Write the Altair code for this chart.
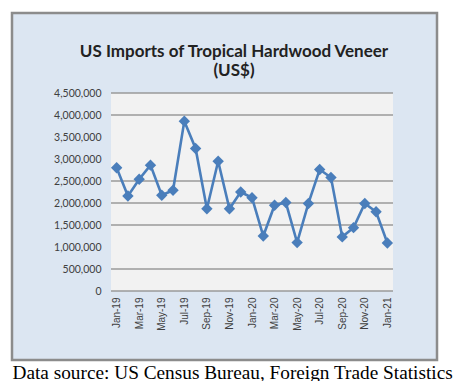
import altair as alt
import pandas as pd

months = ["Jan-19", "Feb-19", "Mar-19", "Apr-19", "May-19", "Jun-19", "Jul-19",
          "Aug-19", "Sep-19", "Oct-19", "Nov-19", "Dec-19", "Jan-20", "Feb-20",
          "Mar-20", "Apr-20", "May-20", "Jun-20", "Jul-20", "Aug-20", "Sep-20",
          "Oct-20", "Nov-20", "Dec-20", "Jan-21"]
values = [2800000, 2160000, 2540000, 2860000, 2175000, 2290000, 3860000,
          3240000, 1870000, 2950000, 1870000, 2250000, 2120000, 1250000,
          1950000, 2010000, 1100000, 1990000, 2760000, 2580000, 1230000,
          1440000, 1990000, 1800000, 1090000]
x_tick_labels = ["Jan-19", "Mar-19", "May-19", "Jul-19", "Sep-19", "Nov-19",
                 "Jan-20", "Mar-20", "May-20", "Jul-20", "Sep-20", "Nov-20", "Jan-21"]
y_ticks = [0, 500000, 1000000, 1500000, 2000000, 2500000, 3000000, 3500000,
           4000000, 4500000]
grid_values = [0, 500000, 1500000, 2000000, 2500000, 4000000, 4500000]

title_line1 = "US Imports of Tropical Hardwood Veneer"
title_line2 = "(US$)"
caption = "Data source: US Census Bureau, Foreign Trade Statistics"

W, H = 282, 198
df = pd.DataFrame({"month": months, "value": values})
grid_df = pd.DataFrame({"g": grid_values})
one = alt.Data(values=[{}])

yscale = alt.Scale(domain=[0, 4500000], nice=False)

frame = alt.Chart(one).mark_rect(
    fill="#dce6f2", stroke="#8c8c8c", strokeWidth=2.5
).encode(x=alt.value(-99), x2=alt.value(326), y=alt.value(-80), y2=alt.value(267))

plotbg = alt.Chart(one).mark_rect(fill="#f2f2f2").encode(
    x=alt.value(0), x2=alt.value(W), y=alt.value(0), y2=alt.value(H))

t1 = alt.Chart(one).mark_text(font="Lato", fontSize=17, fontWeight="bold",
                              color="#222222", align="center", baseline="alphabetic"
                              ).encode(x=alt.value(123), y=alt.value(-36), text=alt.value(title_line1))
t2 = alt.Chart(one).mark_text(font="Lato", fontSize=17, fontWeight="bold",
                              color="#222222", align="center", baseline="alphabetic"
                              ).encode(x=alt.value(123), y=alt.value(-17), text=alt.value(title_line2))

xaxis = alt.Axis(values=x_tick_labels, labelAngle=-90, labelFont="Liberation Sans",
                 labelFontSize=10, labelColor="#404040", ticks=False, domain=False,
                 labelPadding=6, zindex=1,
                 title=caption, titleFont="Liberation Serif", titleFontSize=19.3,
                 titleFontWeight="normal", titleColor="#000000", titleAnchor="start",
                 titleAlign="left", titleBaseline="alphabetic", titleX=-99, titleY=87)
yaxis = alt.Axis(values=y_ticks, labelExpr="format(datum.value, ',')",
                 labelFont="Lato", labelFontSize=10.5,
                 labelColor="#404040", grid=False, domain=False, ticks=False,
                 labelPadding=10, title=None, zindex=1)

grid = alt.Chart(grid_df).mark_rule(color="#9a9a9a", strokeWidth=1.3).encode(
    y=alt.Y("g:Q", scale=yscale, axis=yaxis))

line = alt.Chart(df).mark_line(
    color="#4a7ebb", strokeWidth=2.6,
    point=alt.OverlayMarkDef(shape="diamond", size=130, filled=True, color="#4a7ebb", opacity=1)
).encode(
    x=alt.X("month:N", sort=months, axis=xaxis),
    y=alt.Y("value:Q", scale=yscale, axis=yaxis),
)

chart = alt.layer(frame, plotbg, t1, t2, grid, line).properties(
    width=W, height=H,
    autosize=alt.AutoSizeParams(type="none"),
    padding={"left": 103, "top": 85, "right": 65, "bottom": 90},
    background="white",
).configure_view(stroke=None)

chart.save("out.html", embed_options={"renderer": "svg", "actions": False})
